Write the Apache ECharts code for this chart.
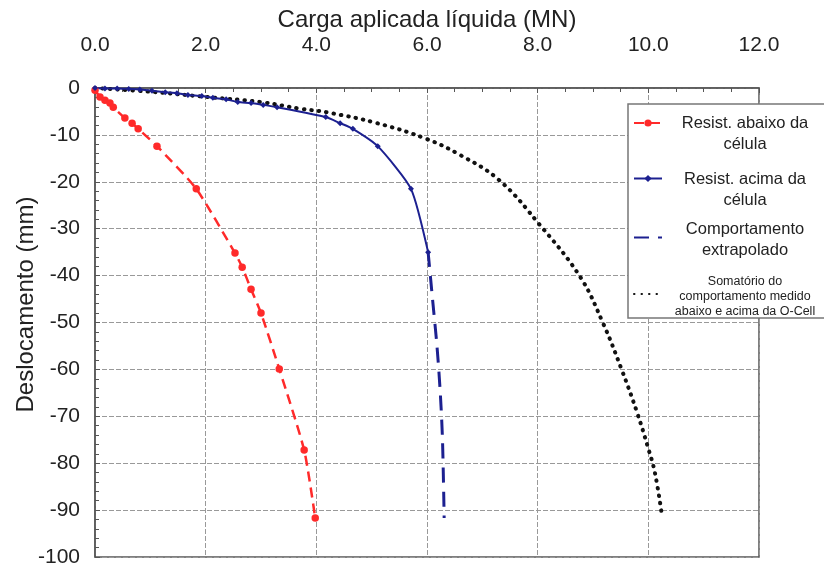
<!DOCTYPE html>
<html>
<head>
<meta charset="utf-8">
<script src="https://cdn.jsdelivr.net/npm/echarts@6/dist/echarts.min.js"></script>
<style>html,body{margin:0;padding:0;background:#fff}#c{width:824px;height:570px}</style>
</head>
<body>
<div id="c"></div>
<script>
// Displacement levels (mm) and loads (MN)
var belowLoad = [0, 0.09, 0.18, 0.27, 0.33, 0.54, 0.67, 0.78, 1.12, 1.83, 2.53, 2.66, 2.82, 3.00, 3.33, 3.78, 3.98];
var belowDisp = [-0.5, -1.9, -2.6, -3.2, -4.1, -6.4, -7.5, -8.7, -12.4, -21.5, -35.2, -38.2, -42.9, -48.0, -59.9, -77.2, -91.7];

var aboveLoad = [0, 0.18, 0.40, 0.61, 0.81, 1.03, 1.27, 1.48, 1.68, 1.93, 2.13, 2.37, 2.58, 2.82, 3.04, 3.29, 4.17, 4.43, 4.66, 5.11, 5.71, 6.02];
var aboveDisp = [0, -0.1, -0.1, -0.2, -0.3, -0.6, -0.9, -1.1, -1.5, -1.7, -2.1, -2.4, -3.0, -3.2, -3.6, -4.1, -6.2, -7.5, -8.7, -12.4, -21.5, -35.0];

var extraLoad = [6.02, 6.10, 6.18, 6.24, 6.28, 6.31];
var extraDisp = [-35.0, -45, -55, -65, -75, -91.7];

var sumLoad = [0, 1.0, 2.0, 3.0, 3.7, 4.2, 5.1, 6.0, 6.6, 7.3, 8.04, 8.77, 9.18, 9.52, 9.80, 9.99, 10.12, 10.25];
var sumDisp = [0, -0.8, -1.9, -3.0, -4.4, -5.2, -7.5, -10.9, -14.3, -19.6, -29.2, -40.3, -50.1, -60.1, -69.3, -76.5, -82.1, -91.5];

var xTicks = [0, 2, 4, 6, 8, 10, 12];
var yTicks = [0, -10, -20, -30, -40, -50, -60, -70, -80, -90, -100];

var names = [
  'Resist. abaixo da\ncélula',
  'Resist. acima da\ncélula',
  'Comportamento\nextrapolado',
  'Somatório do\ncomportamento medido\nabaixo e acima da O-Cell'
];

function zip(a, b) { return a.map(function (v, i) { return [v, b[i]]; }); }

var FONT = '"Liberation Sans", Arial, sans-serif';
var RED = '#ff2a2a', NAVY = '#1c2090', BLACK = '#111';

function richFmt(name) {
  var key = name === names[3] ? 's' : 'a';
  return name.split('\n').map(function (l) { return '{' + key + '|' + l + '}'; }).join('\n');
}
var legendRich = {
  a: { fontSize: 16.5, lineHeight: 21, width: 156, align: 'center', color: '#222', fontFamily: FONT },
  s: { fontSize: 12.5, lineHeight: 15, width: 156, align: 'center', color: '#222', fontFamily: FONT }
};
function makeLegend(i, top, pad, hideSymbol) {
  var l = {
    orient: 'vertical', left: 633, top: top, padding: 0, z: 5,
    itemWidth: 28, itemHeight: 9,
    data: [names[i]],
    formatter: richFmt,
    textStyle: { padding: pad, rich: legendRich }
  };
  if (hideSymbol) l.itemStyle = { opacity: 0 };
  return l;
}

var chart = echarts.init(document.getElementById('c'));
chart.setOption({
  animation: false,
  textStyle: { fontFamily: FONT },
  grid: { left: 95, right: 65, top: 88, bottom: 13, outerBoundsMode: 'none', containLabel: false,
    show: true, borderColor: '#555', borderWidth: 1.5, backgroundColor: 'transparent' },
  xAxis: {
    type: 'value', position: 'top', min: 0, max: 12, interval: 2,
    name: 'Carga aplicada líquida (MN)', nameLocation: 'middle', nameGap: 56, nameMoveOverlap: false,
    nameTextStyle: { fontSize: 24, color: '#222', fontFamily: FONT },
    axisLine: { show: true, lineStyle: { color: '#555', width: 1.5 } },
    axisTick: { show: true, inside: true, length: 5, lineStyle: { color: '#555' } },
    minorTick: { show: true, splitNumber: 4, length: 4, lineStyle: { color: '#555' } },
    axisLabel: { fontSize: 21, color: '#222', margin: 32, formatter: function (v) { return xTicks.indexOf(v) >= 0 ? v.toFixed(1) : ''; } },
    splitLine: { show: true, lineStyle: { color: '#999', width: 1, type: [5, 2] } }
  },
  yAxis: {
    type: 'value', min: -100, max: 0, interval: 10,
    name: 'Deslocamento (mm)', nameLocation: 'middle', nameGap: 57, nameMoveOverlap: false,
    nameTextStyle: { fontSize: 24, color: '#222', fontFamily: FONT, padding: [0, 0, 0, 36] },
    axisLine: { show: true, lineStyle: { color: '#555', width: 1.5 } },
    axisTick: { show: true, inside: true, length: 5, lineStyle: { color: '#555' } },
    minorTick: { show: true, splitNumber: 5, length: 4, lineStyle: { color: '#555' } },
    axisLabel: { fontSize: 21, color: '#222', margin: 15, formatter: function (v) { return yTicks.indexOf(v) >= 0 ? String(v) : ''; } },
    splitLine: { show: true, lineStyle: { color: '#999', width: 1, type: [5, 2] } }
  },
  graphic: [{
    type: 'rect', z: 3, shape: { x: 628, y: 104, width: 200, height: 214 },
    style: { fill: '#fff', stroke: '#777', lineWidth: 1.5 }
  }],
  legend: [
    makeLegend(0, 114.5, [21, 0, 0, 0], false),
    makeLegend(1, 170.5, [22, 0, 0, 0], false),
    makeLegend(2, 220.5, [4, 0, 0, 0], true),
    makeLegend(3, 275.5, [6, 0, 0, 0], true)
  ],
  series: [
    {
      name: names[0], type: 'line', data: zip(belowLoad, belowDisp), smooth: 0.2,
      symbol: 'circle', symbolSize: 7.5, itemStyle: { color: RED },
      lineStyle: { color: RED, width: 2.5, type: [10, 6] }
    },
    {
      name: names[1], type: 'line', data: zip(aboveLoad, aboveDisp), smooth: 0.2,
      symbol: 'diamond', symbolSize: 6, itemStyle: { color: NAVY },
      lineStyle: { color: NAVY, width: 2 }
    },
    {
      name: names[2], type: 'line', data: zip(extraLoad, extraDisp), smooth: 0.3,
      symbol: 'none', itemStyle: { color: NAVY },
      lineStyle: { color: NAVY, width: 3, type: [15, 9] }
    },
    {
      name: names[3], type: 'line', data: zip(sumLoad, sumDisp), smooth: 0.4,
      symbol: 'none', itemStyle: { color: BLACK }, z: 1,
      lineStyle: { color: BLACK, width: 4, type: [0.5, 7], cap: 'round' }
    }
  ]
});
</script>
</body>
</html>
